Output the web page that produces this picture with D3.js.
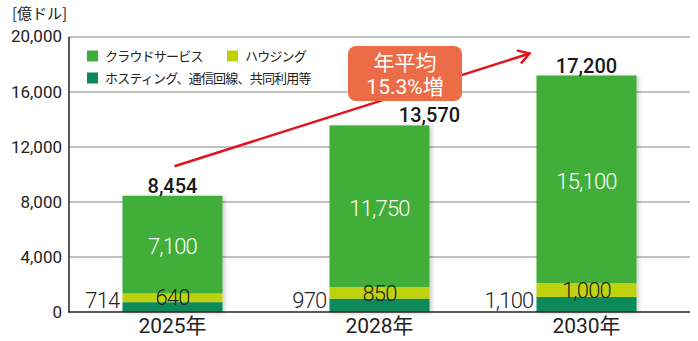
<!DOCTYPE html>
<html><head><meta charset="utf-8">
<script src="https://cdn.jsdelivr.net/npm/d3@7"></script>
<style>
html,body{margin:0;padding:0;background:#fff;}
svg{display:block;font-family:Roboto,"Noto Sans CJK JP",sans-serif;}
</style></head><body>
<script>
const years = ["2025年", "2028年", "2030年"];
const hosting = [714, 970, 1100];
const housing = [640, 850, 1000];
const cloud = [7100, 11750, 15100];
const totals = [8454, 13570, 17200];
const yTicks = [0, 4000, 8000, 12000, 16000, 20000];
const seriesNames = ["クラウドサービス", "ハウジング", "ホスティング、通信回線、共同利用等"];
const unitLabel = "[億ドル]";
const growthText = ["年平均", "15.3%増"];

const W = 698, H = 341;
const colors = {cloud: "#3fae38", housing: "#bed20b", hosting: "#0a8a5a"};
const svg = d3.select("body").append("svg").attr("width", W).attr("height", H);
const defs = svg.append("defs");
const f = defs.append("filter").attr("id", "sh").attr("x", "-10%").attr("y", "-10%").attr("width", "130%").attr("height", "130%");
f.append("feDropShadow").attr("dx", 2).attr("dy", 1).attr("stdDeviation", 2).attr("flood-color", "#000").attr("flood-opacity", 0.22);

const x = d3.scaleBand().domain(years).range([69, 690]).paddingInner(0.517).paddingOuter(0.2585);
const y = d3.scaleLinear().domain([0, 20000]).range([312, 37]);
const fmt = d3.format(",");

// gridlines
svg.append("g").selectAll("line").data(yTicks.filter(d => d > 0)).join("line")
  .attr("x1", 69).attr("x2", 690).attr("y1", d => y(d)).attr("y2", d => y(d))
  .attr("stroke", "#adadad").attr("stroke-width", 1.5);

// y axis labels
const yAxis = d3.axisLeft(y).tickValues(yTicks).tickSize(0).tickPadding(7).tickFormat(fmt);
const ga = svg.append("g").attr("transform", "translate(69,0)").call(yAxis);
ga.select(".domain").remove();
ga.selectAll("text").attr("font-size", 17).attr("fill", "#222").attr("font-family", "Roboto")
  .attr("dy", d => d === 20000 ? "0.25em" : "0.32em");

svg.append("text").attr("x", 12).attr("y", 19).attr("font-size", 15).attr("fill", "#222")
  .attr("font-family", "Noto Sans CJK JP").text(unitLabel);

// stacked bars
const stackData = years.map((yr, i) => ({year: yr, hosting: hosting[i], housing: housing[i], cloud: cloud[i]}));
const keys = ["hosting", "housing", "cloud"];
const stacked = d3.stack().keys(keys)(stackData);
const barG = svg.append("g").attr("filter", "url(#sh)");
barG.selectAll("g").data(stacked).join("g").attr("fill", d => colors[d.key])
  .selectAll("rect").data(d => d).join("rect")
  .attr("x", d => x(d.data.year)).attr("width", x.bandwidth())
  .attr("y", d => y(d[1])).attr("height", d => y(d[0]) - y(d[1]));

// axes lines
svg.append("line").attr("x1", 69).attr("x2", 69).attr("y1", 37).attr("y2", 312).attr("stroke", "#222").attr("stroke-width", 1.5);
svg.append("line").attr("x1", 68).attr("x2", 690).attr("y1", 312).attr("y2", 312).attr("stroke", "#222").attr("stroke-width", 1.5);

// year labels
svg.append("g").selectAll("text").data(years).join("text")
  .attr("x", d => x(d) + x.bandwidth() / 2).attr("y", 333).attr("text-anchor", "middle")
  .attr("font-size", 21).attr("fill", "#222").text(d => d);

// segment labels
const lbl = svg.append("g").attr("font-size", 22).attr("font-weight", 300).attr("letter-spacing", -0.8);
stackData.forEach((d, i) => {
  const cx = x(d.year) + x.bandwidth() / 2;
  lbl.append("text").attr("x", x(d.year) - 3).attr("y", y(0) - 12).attr("dy", "0.35em")
    .attr("text-anchor", "end").attr("fill", "#222").text(fmt(hosting[i]));
  lbl.append("text").attr("x", cx).attr("y", y(hosting[i] + housing[i] / 2)).attr("dy", "0.35em")
    .attr("text-anchor", "middle").attr("fill", "#222").text(fmt(housing[i]));
  const base = hosting[i] + housing[i];
  lbl.append("text").attr("x", cx).attr("y", y(base + cloud[i] / 2) + 2).attr("dy", "0.35em")
    .attr("text-anchor", "middle").attr("fill", "#fff").text(fmt(cloud[i]));
});

// totals
const totalDx = [0, 50, 0];
svg.append("g").selectAll("text").data(totals).join("text")
  .attr("x", (d, i) => x(years[i]) + x.bandwidth() / 2 + totalDx[i])
  .attr("y", d => y(d) - 3).attr("text-anchor", "middle")
  .attr("font-size", 20).attr("font-weight", 500).attr("fill", "#1a1a1a").text(d => fmt(d));

// growth arrow (data coordinates)
const arrowFrom = {year: years[0], value: 10600};
const arrowTo = {year: years[2], value: 18800};
const x0 = x(arrowFrom.year) + x.bandwidth() / 2 + 2, y0 = y(arrowFrom.value);
const x1 = x(arrowTo.year) - 7, y1 = y(arrowTo.value);
svg.append("line").attr("x1", x0).attr("y1", y0).attr("x2", x1).attr("y2", y1)
  .attr("stroke", "#e1141d").attr("stroke-width", 2.5);
const ang = Math.atan2(y1 - y0, x1 - x0);
const L = 13, spread = 0.55;
const p1 = [x1 - L * Math.cos(ang - spread), y1 - L * Math.sin(ang - spread)];
const p2 = [x1 - L * Math.cos(ang + spread), y1 - L * Math.sin(ang + spread)];
svg.append("path").attr("d", `M${p1}L${x1},${y1}L${p2}`).attr("fill", "none")
  .attr("stroke", "#e1141d").attr("stroke-width", 2.5).attr("stroke-linejoin", "miter");

// growth box
svg.append("rect").attr("x", 348).attr("y", 46).attr("width", 114).attr("height", 55).attr("rx", 8)
  .attr("fill", "#eb6c47");
svg.append("g").selectAll("text").data(growthText).join("text")
  .attr("x", 405).attr("y", (d, i) => 63 + i * 24).attr("dy", "0.35em").attr("text-anchor", "middle")
  .attr("font-size", 21).attr("fill", "#fff").text(d => d);

// legend
const legendItems = [
  {name: seriesNames[0], color: colors.cloud, x: 87, y: 56},
  {name: seriesNames[1], color: colors.housing, x: 227, y: 56},
  {name: seriesNames[2], color: colors.hosting, x: 87, y: 78}
];
const lg = svg.append("g").selectAll("g").data(legendItems).join("g")
  .attr("transform", d => `translate(${d.x},${d.y})`);
lg.append("rect").attr("x", 0).attr("y", -5.5).attr("width", 11).attr("height", 11).attr("fill", d => d.color);
lg.append("text").attr("x", 18).attr("y", 0).attr("dy", "0.36em").attr("font-size", 13)
  .attr("font-family", "Noto Sans CJK JP").attr("letter-spacing", -0.8).attr("fill", "#222").text(d => d.name);
</script>
</body></html>
